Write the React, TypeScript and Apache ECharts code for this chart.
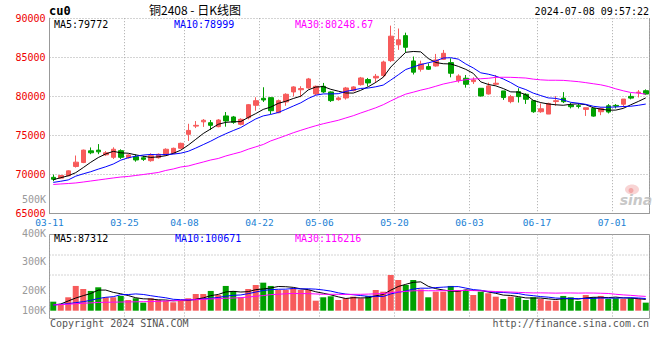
import { useEffect, useRef } from "react";
import * as echarts from "echarts";

const dates = [
  "03-11","03-12","03-13","03-14","03-15","03-18","03-19","03-20","03-21","03-22",
  "03-25","03-26","03-27","03-28","03-29","04-01","04-02","04-03","04-08","04-09",
  "04-10","04-11","04-12","04-15","04-16","04-17","04-18","04-19","04-22","04-23",
  "04-24","04-25","04-26","04-28","04-29","04-30","05-06","05-07","05-08","05-09",
  "05-10","05-13","05-14","05-15","05-16","05-17","05-20","05-21","05-22","05-23",
  "05-24","05-27","05-28","05-29","05-30","05-31","06-03","06-04","06-05","06-06",
  "06-07","06-11","06-12","06-13","06-14","06-17","06-18","06-19","06-20","06-21",
  "06-24","06-25","06-26","06-27","06-28","07-01","07-02","07-03","07-04","07-05",
];
const tickDates = ["03-11","03-25","04-08","04-22","05-06","05-20","06-03","06-17","07-01"];

const opens = [
  69650,69550,69850,71040,71550,73040,73130,72530,72210,73060,
  72160,72290,72150,71780,72160,72510,72720,73370,75150,76200,
  76750,76640,76130,77500,77370,76430,77280,78860,79760,79840,
  77920,79290,80570,80850,81080,80310,81290,80570,79590,79800,
  80740,81500,82150,82360,82660,84570,86600,87770,84530,83470,
  83810,83890,84740,84320,82020,82320,81890,81040,80310,81550,
  80700,79330,80610,80270,79440,78040,77740,79340,79780,78890,
  78810,78340,78460,78040,78800,78850,79000,80000,80470,80730,
];
const closes = [
  69400,69890,70480,71590,73130,72790,72910,72790,73240,72210,
  72510,71870,71950,72420,72600,73240,73360,74000,75650,76300,
  76950,76300,76980,76860,76690,77070,78940,79450,79540,78170,
  79450,80270,81210,81000,82230,81290,80570,79460,79800,81080,
  81210,82360,81720,82570,84400,87700,87240,86280,83100,84150,
  83470,84660,85510,82960,82610,81550,82100,80060,81340,81680,
  79850,79970,79970,79630,78040,78420,79100,79450,79320,78680,
  78720,78550,77480,78440,78000,78760,79660,79780,80550,80300,
];
const lows = [
  69150,69500,69800,70900,71460,72610,72610,72400,72000,72000,
  72050,71650,71750,71650,72050,72400,72650,73300,74300,75950,
  76100,75700,76050,76130,76500,76300,77070,78170,79290,77750,
  77850,78800,80000,79900,80990,80140,80440,79290,79460,79590,
  80650,81380,81290,81720,82440,84400,85950,85640,82800,83170,
  83380,83810,84660,82440,81760,81120,81590,79970,80230,81420,
  79550,79120,79210,79040,77900,77900,77740,78800,79150,78460,
  78460,77500,77400,77600,77820,78460,78590,79620,79870,80170,
];
const highs = [
  70000,69950,70550,72440,73200,73470,73900,73000,73490,73230,
  72600,72600,72400,72720,72700,73360,73450,74080,76500,76850,
  77100,76980,77100,78000,77500,77200,79030,79890,81170,79890,
  79600,80400,81300,81300,82360,81380,81720,80650,79970,81210,
  81300,82490,82360,82870,84570,89050,88680,88150,85100,84570,
  84230,85430,85940,84870,82830,82740,82440,81040,81760,82740,
  80700,80190,81040,80400,79530,79100,79190,80040,80550,79190,
  79100,78550,78550,78590,79020,79020,79660,80400,80810,80900,
];
const volumes = [
  74000,52000,110000,203000,178000,162000,192000,110000,110000,121000,
  88000,102000,66000,102000,88000,80000,69000,80000,102000,137000,
  137000,162000,129000,203000,162000,110000,178000,211000,230000,203000,
  170000,170000,184000,170000,170000,82000,110000,118000,88000,102000,
  115000,102000,121000,170000,156000,293000,252000,211000,252000,175000,
  110000,156000,156000,203000,170000,170000,129000,156000,143000,115000,
  96000,115000,110000,88000,110000,96000,82000,82000,121000,110000,
  80000,129000,110000,121000,96000,102000,96000,102000,96000,66000,
];

// moving-average values before enough in-view data exists
const ma5Head = [69350, 69600, 69850, 70250];
const ma10Head = [69000, 69150, 69320, 69800, 70100, 70370, 70700, 71000, 71350];
const ma30Head = [
  68740, 68800, 68860, 68930, 69050, 69180, 69310, 69440, 69570, 69690,
  69760, 69890, 70010, 70140, 70270, 70530, 70720, 70970, 71100, 71360,
  71610, 71870, 72060, 72380, 72640, 72890, 73250, 73550, 73850,
];
const vma5Head = [47000, 55000, 80000, 104000];
const vma10Head = [47000, 52000, 58000, 66000, 74000, 85000, 100000, 110000, 115000];
const vma30Head = [
  47000, 50000, 53000, 57000, 61000, 64000, 68000, 69000, 70000, 71000,
  72000, 73000, 74000, 75000, 77000, 79000, 82000, 85000, 88000, 90000,
  93000, 96000, 99000, 102000, 104000, 107000, 112000, 118000, 124000,
];

const priceMin = 65000;
const priceMax = 90000;
const priceStep = 5000;
const volLabels = ["400K", "300K", "200K", "100K"];
const mainLegend = ["MA5:79772", "MA10:78999", "MA30:80248.67"];
const volLegend = ["MA5:87312", "MA10:100671", "MA30:116216"];
const titleText = "铜2408 - 日K线图";
const symbolText = "cu0";
const timeText = "2024-07-08 09:57:22";

function movingAvg(vals: number[], n: number, head: number[]) {
  return vals.map((_, i) => {
    if (i < n - 1) return head[i];
    let s = 0;
    for (let k = i - n + 1; k <= i; k++) s += vals[k];
    return Math.round((s / n) * 100) / 100;
  });
}

const RED = "#f75b5b";
const GREEN = "#00a000";
const MONO = "'DejaVu Sans Mono', monospace";

export default function App() {
  const ref = useRef<HTMLDivElement>(null);
  useEffect(() => {
    if (!ref.current) return;
    const chart = echarts.init(ref.current, null, { renderer: "svg" });

    const GL = 49.5, GW = 600, MT = 18.2, MH = 195.5, VT = 234.5, VH = 84;
    const VMIN = -64000, VMAX = 625000;
    const isTick = (i: number) => tickDates.indexOf(dates[i]) >= 0;

    const txt = (text: string, x: number, y: number, fill: string, font: string, align = "left") => ({
      type: "text",
      x, y,
      silent: true,
      style: {
        text, fill, font,
        align, verticalAlign: "middle",
        textAlign: align, textVerticalAlign: "middle",
      },
    });
    const font10 = `10px ${MONO}`;
    const gridLine = { color: "#a8a8a8", type: [1, 2] as any, width: 1 };

    const lineSeries = (name: string, data: number[], color: string, xi: number, yi: number) => ({
      name, type: "line", data, xAxisIndex: xi, yAxisIndex: yi,
      symbol: "none", silent: true, smooth: false,
      lineStyle: { color, width: 1 }, z: 3,
    });

    const option: any = {
      animation: false,
      backgroundColor: "#ffffff",
      grid: [
        { left: GL, top: MT, width: GW, height: MH },
        { left: GL, top: VT, width: GW, height: VH },
      ],
      xAxis: [
        {
          type: "category", data: dates, gridIndex: 0, boundaryGap: true,
          axisLine: { show: true, lineStyle: { color: "#999" } },
          axisTick: { show: false },
          axisLabel: {
            interval: (i: number) => isTick(i),
            color: "#1a7fd4", fontFamily: MONO, fontSize: 9.5, margin: 3.5,
            padding: [0, 7.5, 0, 0],
          },
          splitLine: { show: true, interval: (i: number) => isTick(i), lineStyle: gridLine },
        },
        {
          type: "category", data: dates, gridIndex: 1, boundaryGap: true,
          axisLine: { show: false }, axisTick: { show: false }, axisLabel: { show: false },
          splitLine: { show: true, interval: (i: number) => isTick(i), lineStyle: gridLine },
        },
      ],
      yAxis: [
        {
          type: "value", gridIndex: 0, min: priceMin, max: priceMax, interval: priceStep,
          axisLine: { show: true, lineStyle: { color: "#999" } },
          axisTick: { show: false },
          axisLabel: {
            color: "#ee0000", fontFamily: MONO, fontSize: 10, margin: 4,
            padding: [0, 0, 6, 0],
            formatter: (v: number) => String(v),
          },
          splitLine: { show: true, lineStyle: gridLine },
        },
        {
          type: "value", gridIndex: 1, min: VMIN, max: VMAX,
          axisLine: { show: false }, axisTick: { show: false },
          axisLabel: { show: false }, splitLine: { show: false },
        },
      ],
      series: [
        {
          type: "candlestick", xAxisIndex: 0, yAxisIndex: 0, barWidth: 5, silent: true,
          data: dates.map((_, i) => [opens[i], closes[i], lows[i], highs[i]]),
          itemStyle: { color: RED, color0: GREEN, borderColor: RED, borderColor0: GREEN, borderWidth: 1 },
        },
        lineSeries("MA5", movingAvg(closes, 5, ma5Head), "#000000", 0, 0),
        lineSeries("MA10", movingAvg(closes, 10, ma10Head), "#0000ff", 0, 0),
        lineSeries("MA30", movingAvg(closes, 30, ma30Head), "#ff00ff", 0, 0),
        {
          type: "bar", xAxisIndex: 1, yAxisIndex: 1, barWidth: 6, silent: true,
          data: volumes.map((v, i) => ({
            value: v,
            itemStyle: { color: closes[i] >= opens[i] ? RED : GREEN },
          })),
        },
        lineSeries("VMA5", movingAvg(volumes, 5, vma5Head), "#000000", 1, 1),
        lineSeries("VMA10", movingAvg(volumes, 10, vma10Head), "#0000ff", 1, 1),
        lineSeries("VMA30", movingAvg(volumes, 30, vma30Head), "#ff00ff", 1, 1),
      ],
      graphic: [
        // frames
        { type: "line", silent: true, shape: { x1: GL + GW, y1: MT, x2: GL + GW, y2: MT + MH }, style: { stroke: "#999", lineWidth: 1 } },
        { type: "rect", silent: true, shape: { x: GL, y: VT, width: GW, height: VH }, style: { fill: "none", stroke: "#999", lineWidth: 1 } },
        { type: "line", silent: true, shape: { x1: GL, y1: 255, x2: GL + GW, y2: 255 }, style: { stroke: "#a8a8a8", lineWidth: 1, lineDash: [1, 2] } },
        { type: "line", silent: true, shape: { x1: GL, y1: 275, x2: GL + GW, y2: 275 }, style: { stroke: "#a8a8a8", lineWidth: 1, lineDash: [1, 2] } },
        // header
        txt(symbolText, 49, 11, "#000", `bold 12px ${MONO}`),
        txt(titleText, 195, 9.5, "#000", "12px 'Noto Sans CJK SC'", "center"),
        txt(timeText, 649, 11, "#000", font10, "right"),
        // legends
        txt(mainLegend[0], 54, 24, "#000000", font10),
        txt(mainLegend[1], 174, 24, "#0000ff", font10),
        txt(mainLegend[2], 295, 24, "#ff00ff", font10),
        txt(volLegend[0], 54, 238.5, "#000000", font10),
        txt(volLegend[1], 175, 238.5, "#0000ff", font10),
        txt(volLegend[2], 295, 238.5, "#ff00ff", font10),
        // volume scale labels
        txt("500K", 46, 199, "#999", font10, "right"),
        txt(volLabels[0], 46, 233, "#999", font10, "right"),
        txt(volLabels[1], 46, 261, "#999", font10, "right"),
        txt(volLabels[2], 46, 290.7, "#999", font10, "right"),
        txt(volLabels[3], 46, 310.3, "#999", font10, "right"),
        // footer
        txt("Copyright 2024 SINA.COM", 50, 323.7, "#555", font10),
        txt("http://finance.sina.com.cn", 649, 323.7, "#555", font10, "right"),
        // sina watermark
        { type: "ellipse", silent: true, shape: { cx: 632, cy: 189.5, rx: 7, ry: 5 }, style: { fill: "#f8d4d4" } },
        { type: "circle", silent: true, shape: { cx: 631, cy: 190.5, r: 2.5 }, style: { fill: "#f2a8a8" } },
        txt("sina", 636, 200, "#c8c8c8", "italic bold 14px 'DejaVu Sans'", "center"),
      ],
    };
    chart.setOption(option);
    return () => chart.dispose();
  }, []);
  return (
    <div
      ref={ref}
      style={{ position: "absolute", left: 0, top: 0, width: 660, height: 360, background: "#fff" }}
    />
  );
}
